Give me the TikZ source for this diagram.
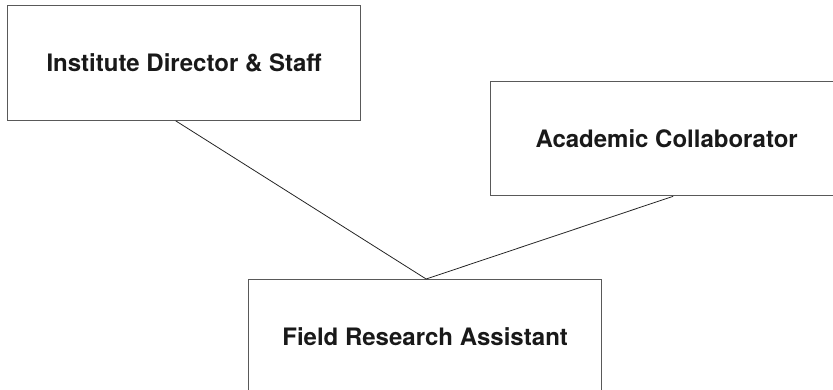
\documentclass[tikz,border=0pt]{standalone}
\usepackage{fontspec}
\setmainfont{TeX Gyre Heros}
\begin{document}
\begin{tikzpicture}[x=1pt,y=-1pt,
  box/.style={draw=black!65,line width=1.3pt,minimum width=353pt,minimum height=114.5pt,inner sep=0pt,font=\fontsize{24}{28}\selectfont\bfseries,text=black!90,anchor=north west},
  link/.style={draw=black!85,line width=0.8pt}]
\useasboundingbox (0,0) rectangle (833,389);
\clip (0,0) rectangle (833,389);
\node[box] (dir) at (7,5) {Institute Director \& Staff};
\node[box] (acad) at (489.5,80.5) {Academic Collaborator};
\node[box] (field) at (248,279) {Field Research Assistant};
\coordinate (f) at ([xshift=1pt]field.north);
\draw[link] ([xshift=-8.5pt]dir.south) -- (f);
\draw[link] ([xshift=6.5pt]acad.south) -- (f);
\end{tikzpicture}
\end{document}
